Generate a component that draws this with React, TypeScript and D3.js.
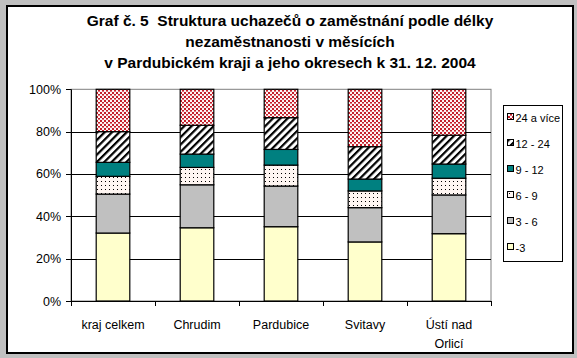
import React from "react";
import * as d3 from "d3";

const categories = ["kraj celkem", "Chrudim", "Pardubice", "Svitavy", "Ústí nad Orlicí"];
const seriesNames = ["-3", "3 - 6", "6 - 9", "9 - 12", "12 - 24", "24 a více"];
const s_lt3 = [32.1, 34.6, 35.1, 27.9, 31.8];
const s_3_6 = [18.4, 20.3, 19.2, 16.2, 18.3];
const s_6_9 = [8.4, 8.2, 9.9, 7.9, 7.9];
const s_9_12 = [6.6, 6.3, 7.4, 5.6, 6.7];
const s_12_24 = [14.5, 13.6, 15.0, 15.3, 13.6];
const s_24p = [20.0, 17.0, 13.4, 27.1, 21.7];
const yTicks = [0, 20, 40, 60, 80, 100];
const titleLines = [
  "Graf č. 5  Struktura uchazečů o zaměstnání podle délky",
  "nezaměstnanosti v měsících",
  "v Pardubickém kraji a jeho okresech k 31. 12. 2004",
];

const seriesValues = [s_lt3, s_3_6, s_6_9, s_9_12, s_12_24, s_24p];
const fills = ["#ffffcc", "#c0c0c0", "url(#dots)", "#008080", "url(#diag)", "url(#confetti)"];

export default function App() {
  const W = 577, H = 358;
  const left = 71, right = 491, top = 89.3, bottom = 301;
  const x = d3.scaleBand().domain(categories).range([left, right]).paddingInner(0.6).paddingOuter(0.3);
  const y = d3.scaleLinear().domain([0, 100]).range([bottom, top]);
  const table = categories.map((c, i) => {
    const row: any = { cat: c };
    seriesNames.forEach((s, j) => (row[s] = seriesValues[j][i]));
    return row;
  });
  const stacked = d3.stack().keys(seriesNames)(table);
  const step = (right - left) / categories.length;
  const font = "'Liberation Sans', Arial, sans-serif";
  return (
    <svg width={W} height={H} style={{ position: "absolute", left: 0, top: 0 }}>
      <defs>
        <pattern id="confetti" width="4" height="4" patternUnits="userSpaceOnUse">
          <rect width="4" height="4" fill="#fdf4f4" />
          <rect x="0" y="0" width="2" height="2" fill="#c41e2a" />
          <rect x="2" y="2" width="2" height="1.6" fill="#c41e2a" />
        </pattern>
        <pattern id="diag" width="5.2" height="5.2" patternUnits="userSpaceOnUse" patternTransform="rotate(45)">
          <rect width="5.2" height="5.2" fill="#ffffff" />
          <rect x="0" y="0" width="2.2" height="5.2" fill="#000" />
        </pattern>
        <pattern id="dots" width="4" height="4" patternUnits="userSpaceOnUse">
          <rect width="4" height="4" fill="#fff6f2" />
          <rect x="1" y="1" width="1" height="1" fill="#000" />
        </pattern>
      </defs>
      <rect x={0} y={0} width={W} height={H} fill="#c0c0c0" />
      <rect x={7} y={6} width={566} height={347} fill="#ffffff" stroke="#000" strokeWidth={2} />
      {titleLines.map((t, i) => (
        <text key={i} x={290} y={26 + i * 21} textAnchor="middle" fontFamily={font} fontWeight="bold" fontSize={15.5} fill="#000" style={{ whiteSpace: "pre" }}>
          {t}
        </text>
      ))}
      <rect x={left} y={top} width={right - left} height={bottom - top} fill="#fff" stroke="#808080" strokeWidth={1} />
      {yTicks.filter((v) => v > 0 && v < 100).map((v) => (
        <line key={v} x1={left} x2={right} y1={Math.round(y(v)) + 0.5} y2={Math.round(y(v)) + 0.5} stroke="#000" />
      ))}
      {stacked.map((layer, j) =>
        layer.map((d, i) => (
          <rect key={j + "-" + i} x={x(categories[i])!} y={y(d[1])} width={x.bandwidth()} height={y(d[0]) - y(d[1])}
            fill={fills[j]} stroke="#000" strokeWidth={1.2} />
        ))
      )}
      <line x1={left + 0.5} x2={left + 0.5} y1={top} y2={bottom} stroke="#000" />
      <line x1={left} x2={right} y1={bottom + 0.5} y2={bottom + 0.5} stroke="#000" />
      {yTicks.map((v) => (
        <g key={v}>
          <line x1={left - 5} x2={left} y1={Math.round(y(v)) + 0.5} y2={Math.round(y(v)) + 0.5} stroke="#000" />
          <text x={left - 10} y={y(v) + 4.5} textAnchor="end" fontFamily={font} fontSize={12.5} fill="#000">{v}%</text>
        </g>
      ))}
      {d3.range(categories.length + 1).map((i) => (
        <line key={i} x1={Math.round(left + i * step) + 0.5} x2={Math.round(left + i * step) + 0.5} y1={bottom} y2={bottom + 5} stroke="#000" />
      ))}
      {categories.map((c, i) => {
        const cx = x(c)! + x.bandwidth() / 2;
        const parts = c === "Ústí nad Orlicí" ? ["Ústí nad", "Orlicí"] : [c];
        return parts.map((p, k) => (
          <text key={c + k} x={cx} y={329 + k * 18.5} textAnchor="middle" fontFamily={font} fontSize={12.5} fill="#000">{p}</text>
        ));
      })}
      <rect x={503.5} y={105.5} width={59} height={156} fill="#fff" stroke="#000" />
      {seriesNames.slice().reverse().map((s, k) => {
        const j = seriesNames.length - 1 - k;
        const cy = 117 + k * 26;
        return (
          <g key={s}>
            <rect x={507.5} y={cy - 3.5} width={6} height={6} fill={fills[j]} stroke="#000" />
            <text x={515.5} y={cy + 4.5} fontFamily={font} fontSize={11} fill="#000">{s}</text>
          </g>
        );
      })}
    </svg>
  );
}
